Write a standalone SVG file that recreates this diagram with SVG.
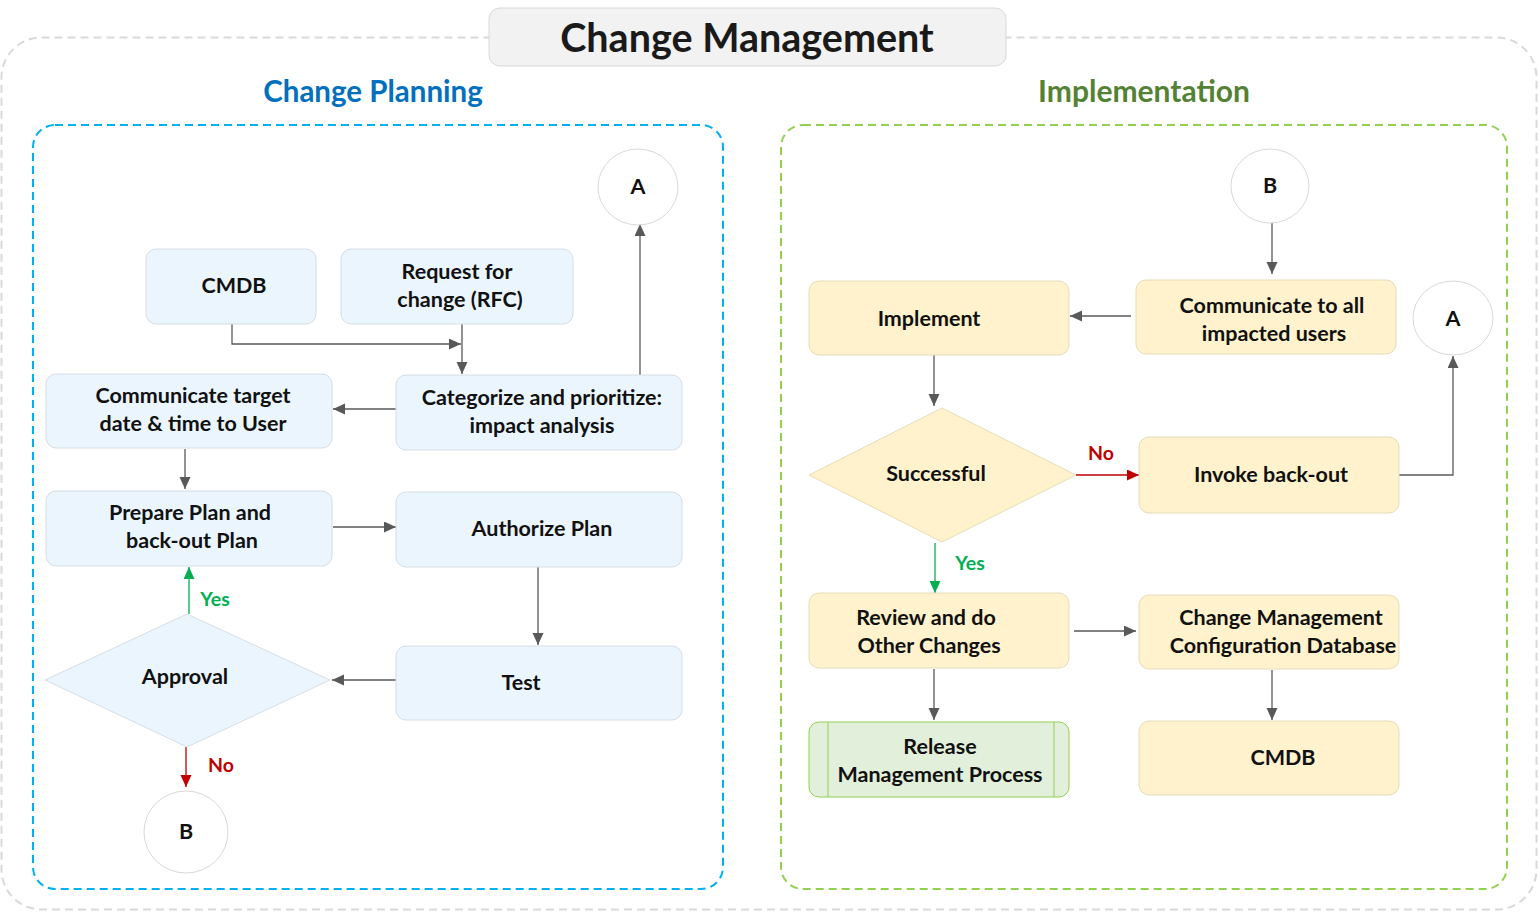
<svg xmlns="http://www.w3.org/2000/svg" width="1539" height="912" viewBox="0 0 1539 912">
<style>
.t{font-family:Lato,"Open Sans",sans-serif;font-weight:bold;font-size:21.5px;fill:#111;text-anchor:middle}
.bn{fill:#ebf5fe;stroke:#d6dde4;stroke-width:1}
.yn{fill:#fff2cc;stroke:#e6dcb9;stroke-width:1}
.cir{fill:#fff;stroke:#d9d9d9;stroke-width:1}
.c{fill:none;stroke:#595959;stroke-width:1.3}
.cg{fill:none;stroke:#00b050;stroke-width:1.3}
.cr{fill:none;stroke:#c00000;stroke-width:1.3}
.lbl{font-family:Lato,"Open Sans",sans-serif;font-weight:bold;font-size:19.5px;text-anchor:middle}
</style>
<defs>
<marker id="ag" markerUnits="userSpaceOnUse" markerWidth="13" markerHeight="12" refX="12" refY="5.5" orient="auto"><path d="M0,0 L12,5.5 L0,11 z" fill="#595959"/></marker>
<marker id="agr" markerUnits="userSpaceOnUse" markerWidth="13" markerHeight="12" refX="12" refY="5.5" orient="auto"><path d="M0,0 L12,5.5 L0,11 z" fill="#00b050"/></marker>
<marker id="ar" markerUnits="userSpaceOnUse" markerWidth="13" markerHeight="12" refX="12" refY="5.5" orient="auto"><path d="M0,0 L12,5.5 L0,11 z" fill="#c00000"/></marker>
</defs>
<rect width="1539" height="912" fill="#fff"/>
<g id="frame">
<rect x="1.5" y="37.5" width="1535" height="872" rx="40" fill="none" stroke="#d9d9d9" stroke-width="2" stroke-dasharray="8,5"/>
<rect x="489" y="8" width="517" height="58" rx="11" fill="#f2f2f2" stroke="#d9d9d9" stroke-width="1"/>
<text x="747" y="52" font-family="Lato,'Open Sans',sans-serif" font-weight="bold" font-size="39.5" fill="#1a1a1a" text-anchor="middle">Change Management</text>
</g>
<g id="panel-planning">
<rect x="33" y="125" width="690" height="764" rx="22" fill="none" stroke="#00b0f0" stroke-width="2" stroke-dasharray="8,5"/>
<text x="373" y="102" font-family="Lato,'Open Sans',sans-serif" font-weight="bold" font-size="29.5" fill="#0070c0" text-anchor="middle">Change Planning</text>
</g>
<g id="panel-implementation">
<rect x="781" y="125" width="726" height="764" rx="22" fill="none" stroke="#92d050" stroke-width="2" stroke-dasharray="8,5"/>
<text x="1144" y="102" font-family="Lato,'Open Sans',sans-serif" font-weight="bold" font-size="30" fill="#548235" text-anchor="middle">Implementation</text>
</g>
<g id="connectors">
<path class="c" d="M232,324 V344 H461" marker-end="url(#ag)"/>
<path class="c" d="M462,324 V374" marker-end="url(#ag)"/>
<path class="c" d="M396,409 H333" marker-end="url(#ag)"/>
<path class="c" d="M640,375 V224" marker-end="url(#ag)"/>
<path class="c" d="M185,449 V489" marker-end="url(#ag)"/>
<path class="c" d="M333,527 H396" marker-end="url(#ag)"/>
<path class="c" d="M538,567 V645" marker-end="url(#ag)"/>
<path class="c" d="M396,680 H332" marker-end="url(#ag)"/>
<path class="cg" d="M189,614 V567" marker-end="url(#agr)"/>
<path class="cr" d="M186,747 V787" marker-end="url(#ar)"/>
<text class="lbl" x="215" y="606" fill="#00b050">Yes</text>
<text class="lbl" x="221" y="772" fill="#c00000">No</text>
<path class="c" d="M1272,223 V274" marker-end="url(#ag)"/>
<path class="c" d="M1131,316 H1070" marker-end="url(#ag)"/>
<path class="c" d="M934,355 V406" marker-end="url(#ag)"/>
<path class="cr" d="M1076,475 H1139" marker-end="url(#ar)"/>
<path class="c" d="M1399,475 H1453 V356" marker-end="url(#ag)"/>
<path class="cg" d="M935,543 V593" marker-end="url(#agr)"/>
<path class="c" d="M1074,631 H1136" marker-end="url(#ag)"/>
<path class="c" d="M934,669 V720" marker-end="url(#ag)"/>
<path class="c" d="M1272,670 V720" marker-end="url(#ag)"/>
<text class="lbl" x="1101" y="460" fill="#c00000">No</text>
<text class="lbl" x="970" y="570" fill="#00b050">Yes</text>
</g>
<g id="cmdb-left"><rect class="bn" x="146" y="249" width="170" height="75" rx="10"/><text class="t" x="234" y="293">CMDB</text></g>
<g id="rfc"><rect class="bn" x="341" y="249" width="232" height="75" rx="10"/><text class="t" x="457" y="279">Request for</text><text class="t" x="460" y="307">change (RFC)</text></g>
<g id="a-left"><ellipse class="cir" cx="638" cy="187" rx="40" ry="38"/><text class="t" x="638" y="194">A</text></g>
<g id="categorize"><rect class="bn" x="396" y="375" width="286" height="75" rx="10"/><text class="t" x="542" y="405">Categorize and prioritize:</text><text class="t" x="542" y="433">impact analysis</text></g>
<g id="communicate-target"><rect class="bn" x="46" y="374" width="286" height="74" rx="10"/><text class="t" x="193" y="403">Communicate target</text><text class="t" x="193" y="431">date &amp; time to User</text></g>
<g id="prepare"><rect class="bn" x="46" y="491" width="286" height="75" rx="10"/><text class="t" x="190" y="520">Prepare Plan and</text><text class="t" x="192" y="548">back-out Plan</text></g>
<g id="authorize"><rect class="bn" x="396" y="492" width="286" height="75" rx="10"/><text class="t" x="542" y="536">Authorize Plan</text></g>
<g id="approval"><polygon class="bn" points="45,680 187,614 330,680 187,747"/><text class="t" x="185" y="684">Approval</text></g>
<g id="test"><rect class="bn" x="396" y="646" width="286" height="74" rx="10"/><text class="t" x="521" y="690">Test</text></g>
<g id="b-left"><ellipse class="cir" cx="186" cy="832" rx="42" ry="41"/><text class="t" x="186" y="839">B</text></g>
<g id="b-right"><ellipse class="cir" cx="1270" cy="186" rx="39" ry="37"/><text class="t" x="1270" y="193">B</text></g>
<g id="communicate-all"><rect class="yn" x="1136" y="280" width="260" height="74" rx="10"/><text class="t" x="1272" y="313">Communicate to all</text><text class="t" x="1274" y="341">impacted users</text></g>
<g id="implement"><rect class="yn" x="809" y="281" width="260" height="74" rx="10"/><text class="t" x="929" y="326">Implement</text></g>
<g id="a-right"><ellipse class="cir" cx="1453" cy="318" rx="40" ry="37"/><text class="t" x="1453" y="326">A</text></g>
<g id="successful"><polygon class="yn" points="809,475 942,408 1076,475 942,542"/><text class="t" x="936" y="481">Successful</text></g>
<g id="invoke"><rect class="yn" x="1139" y="437" width="260" height="76" rx="10"/><text class="t" x="1271" y="482">Invoke back-out</text></g>
<g id="review"><rect class="yn" x="809" y="593" width="260" height="75" rx="10"/><text class="t" x="926" y="625">Review and do</text><text class="t" x="929" y="653">Other Changes</text></g>
<g id="config-db"><rect class="yn" x="1139" y="595" width="260" height="74" rx="10"/><text class="t" x="1281" y="625">Change Management</text><text class="t" x="1283" y="653">Configuration Database</text></g>
<g id="release"><rect x="809" y="722" width="260" height="75" rx="10" fill="#e2efda" stroke="#92d050" stroke-width="1"/><line x1="828" y1="722" x2="828" y2="797" stroke="#92d050"/><line x1="1054" y1="722" x2="1054" y2="797" stroke="#92d050"/><text class="t" x="940" y="754">Release</text><text class="t" x="940" y="782">Management Process</text></g>
<g id="cmdb-right"><rect class="yn" x="1139" y="721" width="260" height="74" rx="10"/><text class="t" x="1283" y="765">CMDB</text></g>
</svg>
